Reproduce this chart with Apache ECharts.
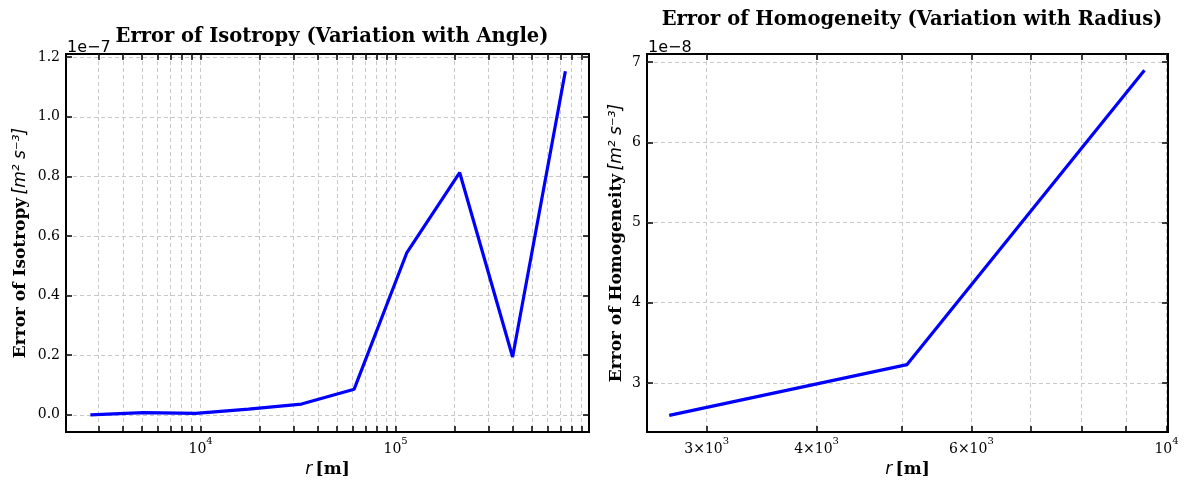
<!DOCTYPE html>
<html>
<head>
<meta charset="utf-8">
<script src="https://cdn.jsdelivr.net/npm/echarts@6/dist/echarts.min.js"></script>
<style>
  html, body { margin: 0; padding: 0; background: #fff; }
  #chart { width: 1189px; height: 489px; }
</style>
</head>
<body>
<div id="chart"></div>
<script>
// left panel: isotropy error vs radius (values in units of 1e-7)
const isoRadius = [2720, 5070, 9440, 17600, 32900, 61300, 114000, 213000, 398000, 742000];
const isoError = [0.0, 0.007, 0.005, 0.019, 0.036, 0.086, 0.543, 0.813, 0.194, 1.153];

// right panel: homogeneity error vs radius (values in units of 1e-8)
const homRadius = [2720, 5070, 9440];
const homError = [2.596, 3.229, 6.896];

// ticks
const isoXTicks = [3000, 4000, 5000, 6000, 7000, 8000, 9000, 10000,
  20000, 30000, 40000, 50000, 60000, 70000, 80000, 90000, 100000,
  200000, 300000, 400000, 500000, 600000, 700000, 800000, 900000];
const isoXLabelValues = [10000, 100000];
const isoXLabels = ['{n|10}{s|4}', '{n|10}{s|5}'];
const isoYTicks = [0, 0.2, 0.4, 0.6, 0.8, 1.0, 1.2];

const homXTicks = [3000, 4000, 5000, 6000, 7000, 8000, 9000, 10000];
const homXLabelValues = [3000, 4000, 6000, 10000];
const homXLabels = ['{n|3×10}{s|3}', '{n|4×10}{s|3}', '{n|6×10}{s|3}', '{n|10}{s|4}'];
const homYTicks = [3, 4, 5, 6, 7];

const serif = 'DejaVu Serif';
const gridLine = { show: true, lineStyle: { color: '#c8c8c8', width: 1, type: [4, 3] } };
const tickStyle = { color: '#000', width: 1.5 };

const pickLabel = (values, labels) => v => {
  for (let i = 0; i < values.length; i++) {
    if (Math.abs(Math.log10(v / values[i])) < 1e-6) return labels[i];
  }
  return '';
};

const xAxisPair = (gridIndex, min, max, ticks, labelValues, labels) => [
  {
    type: 'log', logBase: 10, gridIndex, min, max, position: 'bottom',
    axisLine: { show: false, onZero: false },
    axisTick: { show: true, inside: true, length: 6, customValues: ticks, lineStyle: tickStyle },
    axisLabel: { show: true, customValues: labelValues, margin: 4,
      formatter: pickLabel(labelValues, labels),
      rich: {
        n: { fontFamily: serif, fontSize: 14, color: '#000', lineHeight: 20, verticalAlign: 'bottom' },
        s: { fontFamily: serif, fontSize: 10, color: '#000', lineHeight: 10, verticalAlign: 'top' }
      } },
    splitLine: gridLine,
    name: '{i|r} {b|[m]}', nameLocation: 'middle', nameGap: 29,
    nameTextStyle: { rich: {
      i: { fontFamily: 'DejaVu Sans', fontStyle: 'italic', fontSize: 17, color: '#000' },
      b: { fontFamily: serif, fontWeight: 'bold', fontSize: 17, color: '#000' }
    } }
  },
  {
    type: 'log', logBase: 10, gridIndex, min, max, position: 'top',
    axisLine: { show: false, onZero: false },
    axisTick: { show: true, inside: true, length: 6, customValues: ticks, lineStyle: tickStyle },
    axisLabel: { show: false },
    splitLine: { show: false }
  }
];

const yAxisPair = (gridIndex, min, max, ticks, digits, title, gap) => [
  {
    type: 'value', gridIndex, min, max, position: 'left',
    axisLine: { show: false, onZero: false },
    axisTick: { show: true, inside: true, length: 6, customValues: ticks, lineStyle: tickStyle },
    axisLabel: { show: true, customValues: ticks, margin: 6,
      formatter: v => v.toFixed(digits),
      fontFamily: serif, fontSize: 14, color: '#000' },
    splitLine: gridLine,
    name: '{b|' + title + '} {i|[m² s⁻³]}', nameLocation: 'middle', nameRotate: 90, nameGap: gap,
    nameTextStyle: { rich: {
      i: { fontFamily: 'DejaVu Sans', fontStyle: 'italic', fontSize: 17, color: '#000' },
      b: { fontFamily: serif, fontWeight: 'bold', fontSize: 17, color: '#000' }
    } }
  },
  {
    type: 'value', gridIndex, min, max, position: 'right',
    axisLine: { show: false, onZero: false },
    axisTick: { show: true, inside: true, length: 6, customValues: ticks, lineStyle: tickStyle },
    axisLabel: { show: false },
    splitLine: { show: false }
  }
];

const chart = echarts.init(document.getElementById('chart'), null, { renderer: 'canvas' });

chart.setOption({
  animation: false,
  backgroundColor: '#fff',
  title: [
    { text: 'Error of Isotropy (Variation with Angle)', left: 327, top: 22, textAlign: 'center',
      textStyle: { fontFamily: serif, fontWeight: 'bold', fontSize: 19.5, color: '#000' } },
    { text: 'Error of Homogeneity (Variation with Radius)', left: 907, top: 5, textAlign: 'center',
      textStyle: { fontFamily: serif, fontWeight: 'bold', fontSize: 19.5, color: '#000' } },
    { text: '1e−7', left: 62, top: 35,
      textStyle: { fontFamily: 'DejaVu Sans', fontWeight: 'normal', fontSize: 16, color: '#000' } },
    { text: '1e−8', left: 643, top: 35,
      textStyle: { fontFamily: 'DejaVu Sans', fontWeight: 'normal', fontSize: 16, color: '#000' } }
  ],
  grid: [
    { left: 66, top: 54, width: 523, height: 378, show: true, borderColor: '#000', borderWidth: 2,
      backgroundColor: 'transparent', containLabel: false },
    { left: 647, top: 54, width: 521, height: 378, show: true, borderColor: '#000', borderWidth: 2,
      backgroundColor: 'transparent', containLabel: false }
  ],
  xAxis: [
    ...xAxisPair(0, 2040, 981000, isoXTicks, isoXLabelValues, isoXLabels),
    ...xAxisPair(1, 2566, 10040, homXTicks, homXLabelValues, homXLabels)
  ],
  yAxis: [
    ...yAxisPair(0, -0.0577, 1.2107, isoYTicks, 1, 'Error of Isotropy', 37),
    ...yAxisPair(1, 2.389, 7.10, homYTicks, 0, 'Error of Homogeneity', 22)
  ],
  series: [
    {
      type: 'line', xAxisIndex: 0, yAxisIndex: 0,
      data: isoRadius.map((r, i) => [r, isoError[i]]),
      showSymbol: false, lineStyle: { color: '#0000ff', width: 3.2 }, itemStyle: { color: '#0000ff' },
      z: 5
    },
    {
      type: 'line', xAxisIndex: 2, yAxisIndex: 2,
      data: homRadius.map((r, i) => [r, homError[i]]),
      showSymbol: false, lineStyle: { color: '#0000ff', width: 3.2 }, itemStyle: { color: '#0000ff' },
      z: 5
    }
  ]
});

window.addEventListener('resize', () => chart.resize());
</script>
</body>
</html>
